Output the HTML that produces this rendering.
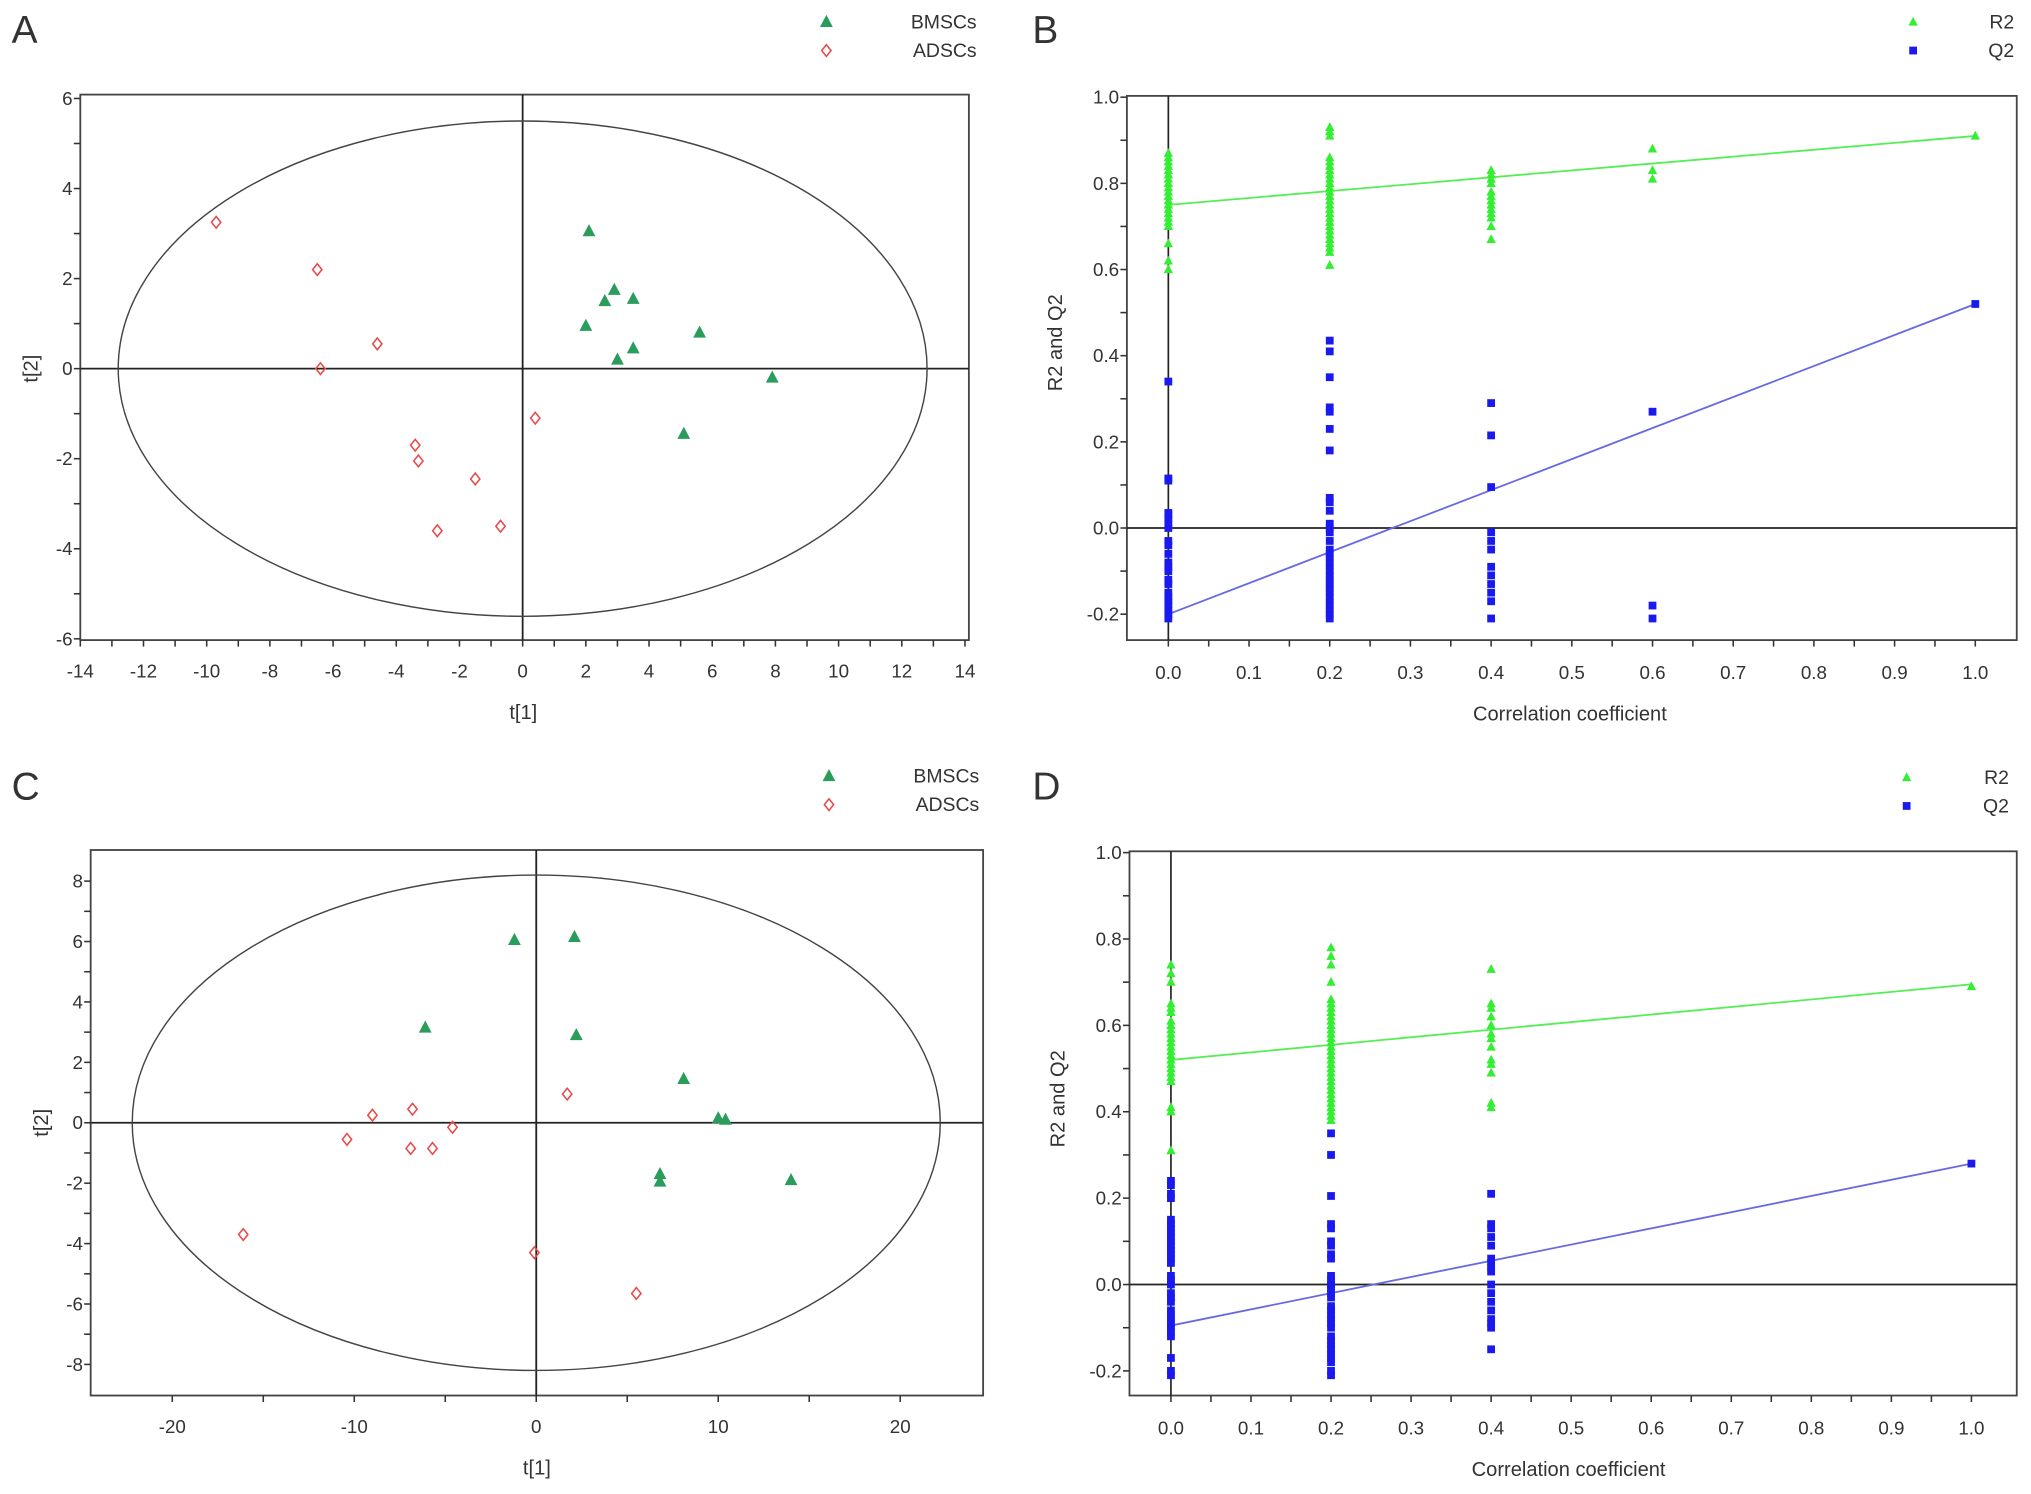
<!DOCTYPE html>
<html><head><meta charset="utf-8">
<style>
html,body{margin:0;padding:0;background:#fff;}
svg{display:block;}
text{font-family:"Liberation Sans",Arial,sans-serif;fill:#333;}
</style></head>
<body>
<svg id="fig" width="2031" height="1494" viewBox="0 0 1568 1153" preserveAspectRatio="none" xmlns="http://www.w3.org/2000/svg"></svg>
<script>
// ---- Panel A data ----
const aBmscX = [2.1, 2.9, 2.6, 3.5, 2.0, 5.6, 3.5, 3.0, 7.9, 5.1];
const aBmscY = [3.05, 1.75, 1.5, 1.55, 0.95, 0.8, 0.45, 0.2, -0.2, -1.45];
const aAdscX = [-9.7, -6.5, -4.6, -6.4, 0.4, -3.4, -3.3, -1.5, -2.7, -0.7];
const aAdscY = [3.25, 2.2, 0.55, 0.0, -1.1, -1.7, -2.05, -2.45, -3.6, -3.5];
const aXTicks = [-14,-12,-10,-8,-6,-4,-2,0,2,4,6,8,10,12,14];
const aYTicks = [-6,-4,-2,0,2,4,6];
// ---- Panel C data ----
const cBmscX = [-1.2, 2.1, -6.1, 2.2, 8.1, 10.0, 10.4, 6.8, 6.8, 14.0];
const cBmscY = [6.05, 6.15, 3.15, 2.9, 1.45, 0.15, 0.1, -1.7, -1.95, -1.9];
const cAdscX = [1.7, -9.0, -6.8, -4.6, -10.4, -6.9, -5.7, -16.1, -0.1, 5.5];
const cAdscY = [0.95, 0.25, 0.45, -0.15, -0.55, -0.85, -0.85, -3.7, -4.3, -5.65];
const cXTicks = [-20,-10,0,10,20];
const cYTicks = [-8,-6,-4,-2,0,2,4,6,8];
// ---- Panel B data ----
const bR2_00 = [0.87,0.86,0.85,0.84,0.83,0.82,0.81,0.80,0.79,0.78,0.77,0.76,0.75,0.74,0.73,0.72,0.71,0.70,0.66,0.62,0.60];
const bR2_02 = [0.93,0.92,0.91,0.86,0.85,0.84,0.83,0.82,0.81,0.80,0.79,0.78,0.77,0.76,0.75,0.74,0.73,0.72,0.71,0.70,0.69,0.68,0.67,0.66,0.65,0.64,0.61];
const bR2_04 = [0.83,0.82,0.81,0.80,0.78,0.77,0.76,0.75,0.74,0.73,0.72,0.70,0.67];
const bR2_06 = [0.88,0.83,0.81];
const bR2_10 = [0.91];
const bQ2_00 = [0.34,0.115,0.11,0.035,0.03,0.02,0.01,0.0,-0.03,-0.04,-0.06,-0.08,-0.09,-0.10,-0.12,-0.13,-0.15,-0.16,-0.17,-0.18,-0.19,-0.20,-0.21];
const bQ2_02 = [0.435,0.41,0.35,0.28,0.27,0.23,0.18,0.07,0.06,0.04,0.01,0.0,-0.01,-0.03,-0.05,-0.06,-0.07,-0.08,-0.09,-0.10,-0.11,-0.12,-0.13,-0.14,-0.15,-0.16,-0.17,-0.18,-0.19,-0.20,-0.21];
const bQ2_04 = [0.29,0.215,0.095,-0.01,-0.03,-0.05,-0.09,-0.11,-0.13,-0.15,-0.17,-0.21];
const bQ2_06 = [0.27,-0.18,-0.21];
const bQ2_10 = [0.52];
const bR2Line = [0.75, 0.91];
const bQ2Line = [-0.20, 0.52];
// ---- Panel D data ----
const dR2_00 = [0.74,0.72,0.70,0.65,0.64,0.63,0.61,0.60,0.59,0.58,0.57,0.56,0.55,0.54,0.53,0.52,0.51,0.50,0.49,0.48,0.47,0.41,0.40,0.31];
const dR2_02 = [0.78,0.76,0.74,0.70,0.66,0.65,0.64,0.63,0.62,0.61,0.60,0.59,0.58,0.57,0.56,0.55,0.54,0.53,0.52,0.51,0.50,0.49,0.48,0.47,0.46,0.45,0.44,0.43,0.42,0.41,0.40,0.39,0.38];
const dR2_04 = [0.73,0.65,0.64,0.62,0.60,0.58,0.57,0.55,0.52,0.51,0.49,0.42,0.41];
const dR2_10 = [0.69];
const dQ2_00 = [0.24,0.23,0.21,0.20,0.15,0.14,0.13,0.12,0.11,0.10,0.09,0.08,0.07,0.06,0.05,0.02,0.01,0.0,-0.02,-0.03,-0.04,-0.06,-0.07,-0.08,-0.09,-0.10,-0.11,-0.12,-0.17,-0.20,-0.21];
const dQ2_02 = [0.35,0.30,0.205,0.14,0.13,0.10,0.09,0.07,0.06,0.02,0.01,0.0,-0.01,-0.02,-0.03,-0.05,-0.06,-0.07,-0.08,-0.09,-0.10,-0.12,-0.13,-0.14,-0.15,-0.16,-0.17,-0.18,-0.20,-0.21];
const dQ2_04 = [0.21,0.14,0.13,0.11,0.09,0.06,0.05,0.04,0.03,0.0,-0.02,-0.04,-0.06,-0.08,-0.09,-0.10,-0.15];
const dQ2_10 = [0.28];
const dR2Line = [0.52, 0.695];
const dQ2Line = [-0.095, 0.28];
const corrTicks = [0.0,0.1,0.2,0.3,0.4,0.5,0.6,0.7,0.8,0.9,1.0];
const rqYTicks = [-0.2,0.0,0.2,0.4,0.6,0.8,1.0];

const NS = "http://www.w3.org/2000/svg";
const svg = document.getElementById('fig');
function mk(tag, attrs, parent, txt){
  const e = document.createElementNS(NS, tag);
  for (const k in attrs) e.setAttribute(k, attrs[k]);
  if (txt !== undefined) e.textContent = txt;
  (parent || svg).appendChild(e);
  return e;
}
function lin(d0,d1,r0,r1){ return v => r0 + (v-d0)*(r1-r0)/(d1-d0); }

function frame(g, L, R, T, B){
  mk('rect',{x:L,y:T,width:R-L,height:B-T,fill:'none',stroke:'#444','stroke-width':1.4},g);
}
function tri(g, x, y, s, col, name){
  const p = mk('polygon',{points:`${x},${y-s} ${x-s*0.9},${y+s*0.7} ${x+s*0.9},${y+s*0.7}`,fill:col},g);
  
  
}
function dia(g, x, y, s, col, name){
  const p = mk('polygon',{points:`${x},${y-s} ${x+s*0.8},${y} ${x},${y+s} ${x-s*0.8},${y}`,fill:'none',stroke:col,'stroke-width':1.2},g);
  
  
}
function sq(g, x, y, s, col, name){
  const p = mk('rect',{x:x-s/2,y:y-s/2,width:s,height:s,fill:col},g);
  
  
}

// ---------- Score plot (A / C) ----------
function scorePlot(o){
  const g = mk('g',{});
  
  
  const sx = lin(o.x0,o.x1,o.px0,o.px1), sy = lin(o.y0,o.y1,o.py0,o.py1);
  mk('text',{x:o.letterX,y:o.letterY,'font-size':30,fill:'#111'},g,o.letter);
  // legend
  const lg = mk('g',{},g);  
  tri(lg, o.legX, o.legY, 5.5, '#2a9d5c', 'legend-marker-bmscs');
  mk('text',{x:o.legTX,y:o.legY+5,'font-size':15,'text-anchor':'end'},lg,'BMSCs');
  dia(lg, o.legX, o.legY+22, 4.5, '#e84a4a', 'legend-marker-adscs');
  mk('text',{x:o.legTX,y:o.legY+27,'font-size':15,'text-anchor':'end'},lg,'ADSCs');
  frame(g,o.L,o.R,o.T,o.B);
  // axes through origin
  mk('line',{x1:sx(0),x2:sx(0),y1:o.T,y2:o.B,stroke:'#222','stroke-width':1.4},g);
  mk('line',{x1:o.L,x2:o.R,y1:sy(0),y2:sy(0),stroke:'#222','stroke-width':1.4},g);
  // ellipse
  const el = mk('ellipse',{cx:sx(0),cy:sy(0),rx:Math.abs(sx(o.ex)-sx(0)),ry:Math.abs(sy(o.ey)-sy(0)),fill:'none',stroke:'#444','stroke-width':1.1},g);
  
  
  // ticks
  for (let v=o.x0; v<=o.x1+1e-9; v+=o.xMinor){
    mk('line',{x1:sx(v),x2:sx(v),y1:o.B,y2:o.B+5,stroke:'#333','stroke-width':1.2},g);
  }
  for (let v=o.y0; v<=o.y1+1e-9; v+=o.yMinor){
    mk('line',{x1:o.L-5,x2:o.L,y1:sy(v),y2:sy(v),stroke:'#333','stroke-width':1.2},g);
  }
  o.xt.forEach(v=>{
    const t = mk('text',{x:sx(v),y:o.B+29,'font-size':14.5,'text-anchor':'middle'},g,String(v));
    
  });
  o.yt.forEach(v=>{
    const t = mk('text',{x:o.L-6,y:sy(v)+5,'font-size':14.5,'text-anchor':'end'},g,String(v));
    
  });
  mk('text',{x:(o.L+o.R)/2-(o.xLabShift||0),y:o.B+61,'font-size':15.5,'text-anchor':'middle'},g,'t[1]');
  mk('text',{x:0,y:0,'font-size':15.5,'text-anchor':'middle',transform:`translate(${o.L-33},${sy(0)}) rotate(-90)`},g,'t[2]');
  o.bx.forEach((x,i)=>tri(g,sx(x),sy(o.by[i]),5.5,'#2a9d5c','bmsc-point'));
  o.ax.forEach((x,i)=>dia(g,sx(x),sy(o.ay[i]),4.5,'#e84a4a','adsc-point'));
}

scorePlot({name:'panel-a-score-plot',letter:'A',letterX:9,letterY:33,legX:638,legY:17,legTX:754,
  L:62,R:748,T:73,B:494,x0:-14,x1:14,px0:62,px1:745,y0:-6,y1:6,py0:493,py1:76,
  ex:12.8,ey:5.5,xMinor:1,yMinor:1,xt:aXTicks,yt:aYTicks,bx:aBmscX,by:aBmscY,ax:aAdscX,ay:aAdscY,xLabShift:1});
scorePlot({name:'panel-c-score-plot',letter:'C',letterX:9,letterY:617,legX:640,legY:599,legTX:756,
  L:70,R:759,T:656,B:1077,x0:-20,x1:20,px0:133,px1:695,y0:-8,y1:8,py0:1053,py1:680,
  ex:22.2,ey:8.2,xMinor:5,yMinor:1,xt:cXTicks,yt:cYTicks,bx:cBmscX,by:cBmscY,ax:cAdscX,ay:cAdscY,xLabShift:0});

// ---------- Permutation plot (B / D) ----------
function permPlot(o){
  const g = mk('g',{});
  
  
  const sx = lin(0,1,o.px0,o.px1), sy = lin(-0.2,1.0,o.py0,o.py1);
  mk('text',{x:o.letterX,y:o.letterY,'font-size':30,fill:'#111'},g,o.letter);
  const lg = mk('g',{},g);  
  tri(lg,o.legX,o.legY,4,'#33ee33','legend-marker-r2');
  mk('text',{x:o.legTX,y:o.legY+5,'font-size':15,'text-anchor':'end'},lg,'R2');
  sq(lg,o.legX,o.legY+22,6,'#1a1aee','legend-marker-q2');
  mk('text',{x:o.legTX,y:o.legY+27,'font-size':15,'text-anchor':'end'},lg,'Q2');
  frame(g,o.L,o.R,o.T,o.B);
  mk('line',{x1:sx(0),x2:sx(0),y1:o.T,y2:o.B,stroke:'#222','stroke-width':1.3},g);
  mk('line',{x1:o.L,x2:o.R,y1:sy(0),y2:sy(0),stroke:'#222','stroke-width':1.3},g);
  for (let i=0;i<=20;i++){ const v=i*0.05;
    mk('line',{x1:sx(v),x2:sx(v),y1:o.B,y2:o.B+5,stroke:'#333','stroke-width':1.2},g); }
  for (let i=-2;i<=10;i++){ const v=i*0.1;
    mk('line',{x1:o.L-5,x2:o.L,y1:sy(v),y2:sy(v),stroke:'#333','stroke-width':1.2},g); }
  corrTicks.forEach(v=>{
    mk('text',{x:sx(v),y:o.B+30,'font-size':14.5,'text-anchor':'middle'},g,v.toFixed(1));
  });
  rqYTicks.forEach(v=>{
    mk('text',{x:o.L-6,y:sy(v)+5,'font-size':14.5,'text-anchor':'end'},g,v.toFixed(1));
  });
  mk('text',{x:o.xTitleX,y:o.B+62,'font-size':15.5,'text-anchor':'middle'},g,'Correlation coefficient');
  mk('text',{x:0,y:0,'font-size':15.5,'text-anchor':'middle',transform:`translate(${o.L-50},${sy(0.4)-10}) rotate(-90)`},g,'R2 and Q2');
  // regression lines
  mk('line',{x1:sx(0),y1:sy(o.r2Line[0]),x2:sx(1),y2:sy(o.r2Line[1]),stroke:'#55ee55','stroke-width':1.4},g);
  mk('line',{x1:sx(0),y1:sy(o.q2Line[0]),x2:sx(1),y2:sy(o.q2Line[1]),stroke:'#6a6ae0','stroke-width':1.4},g);
  o.r2.forEach(([x,arr])=>arr.forEach(v=>tri(g,sx(x),sy(v),4,'#33ee33','r2-point')));
  o.q2.forEach(([x,arr])=>arr.forEach(v=>sq(g,sx(x),sy(v),6,'#1a1aee','q2-point')));
}

permPlot({name:'panel-b-permutation-plot',letter:'B',letterX:797,letterY:33,legX:1477,legY:17,legTX:1555,
  L:870,R:1557,T:74,B:494,px0:902,px1:1525,py0:474,py1:75,xTitleX:1212,
  r2Line:bR2Line,q2Line:bQ2Line,
  r2:[[0,bR2_00],[0.2,bR2_02],[0.4,bR2_04],[0.6,bR2_06],[1.0,bR2_10]],
  q2:[[0,bQ2_00],[0.2,bQ2_02],[0.4,bQ2_04],[0.6,bQ2_06],[1.0,bQ2_10]]});
permPlot({name:'panel-d-permutation-plot',letter:'D',letterX:797,letterY:617,legX:1472,legY:600,legTX:1551,
  L:872,R:1557,T:657,B:1077,px0:904,px1:1522,py0:1058,py1:658,xTitleX:1211,
  r2Line:dR2Line,q2Line:dQ2Line,
  r2:[[0,dR2_00],[0.2,dR2_02],[0.4,dR2_04],[1.0,dR2_10]],
  q2:[[0,dQ2_00],[0.2,dQ2_02],[0.4,dQ2_04],[1.0,dQ2_10]]});
</script>
</body></html>
